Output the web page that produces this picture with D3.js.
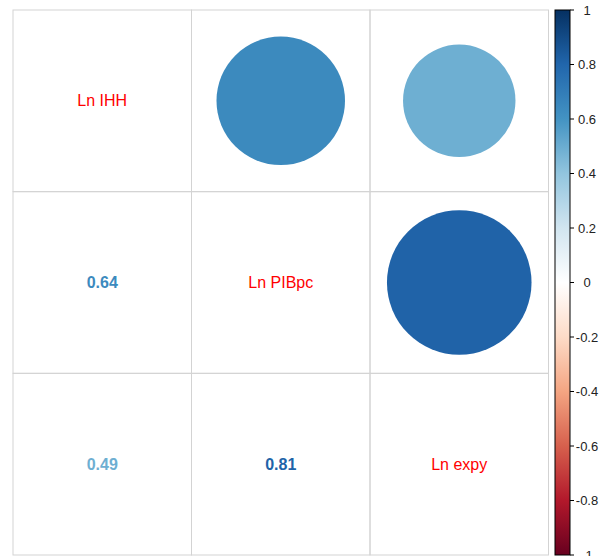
<!DOCTYPE html>
<html>
<head>
<meta charset="utf-8">
<script src="https://cdn.jsdelivr.net/npm/d3@7"></script>
<style>
  html, body { margin: 0; padding: 0; background: #fff; }
  svg { display: block; font-family: "Liberation Sans", Arial, sans-serif; }
</style>
</head>
<body>
<svg id="chart" width="603" height="556"></svg>
<script>
const variables = ["Ln IHH", "Ln PIBpc", "Ln expy"];
const rowIHH   = [1.00, 0.64, 0.49];
const rowPIBpc = [0.64, 1.00, 0.81];
const rowExpy  = [0.49, 0.81, 1.00];
const corrRows = [rowIHH, rowPIBpc, rowExpy];
const legendTicks = [1, 0.8, 0.6, 0.4, 0.2, 0, -0.2, -0.4, -0.6, -0.8, -1];
const paletteStops = ["#67001F", "#B2182B", "#D6604D", "#F4A582", "#FDDBC7", "#FFFFFF",
                      "#D1E5F0", "#92C5DE", "#4393C3", "#2166AC", "#053061"];

const svg = d3.select("#chart");
const gridLeft = 13, gridRight = 548.5, gridTop = 10, gridBottom = 555;

const x = d3.scaleBand().domain(d3.range(variables.length)).range([gridLeft, gridRight]);
const y = d3.scaleBand().domain(d3.range(variables.length)).range([gridTop, gridBottom]);

const color = d3.scaleLinear()
  .domain(d3.range(paletteStops.length).map(i => -1 + 2 * i / (paletteStops.length - 1)))
  .range(paletteStops)
  .interpolate(d3.interpolateRgb);

const cells = [];
corrRows.forEach((row, i) => row.forEach((v, j) => cells.push({ i, j, v })));

// grid
const grid = svg.append("g");
grid.selectAll("rect.cell").data(cells).join("rect")
  .attr("x", d => x(d.j)).attr("y", d => y(d.i))
  .attr("width", x.bandwidth()).attr("height", y.bandwidth())
  .attr("fill", "none").attr("stroke", "#d3d3d3").attr("stroke-width", 1);

const maxR = 0.45 * Math.min(x.bandwidth(), y.bandwidth());

// upper triangle circles
svg.append("g").selectAll("circle").data(cells.filter(d => d.j > d.i)).join("circle")
  .attr("cx", d => x(d.j) + x.bandwidth() / 2)
  .attr("cy", d => y(d.i) + y.bandwidth() / 2)
  .attr("r", d => maxR * Math.sqrt(Math.abs(d.v)))
  .attr("fill", d => color(d.v));

// lower triangle numbers
svg.append("g").selectAll("text").data(cells.filter(d => d.j < d.i)).join("text")
  .attr("x", d => x(d.j) + x.bandwidth() / 2)
  .attr("y", d => y(d.i) + y.bandwidth() / 2)
  .attr("text-anchor", "middle").attr("dominant-baseline", "central")
  .attr("font-size", 16).attr("font-weight", "bold")
  .attr("fill", d => color(d.v))
  .text(d => d3.format(".2f")(d.v));

// diagonal labels
svg.append("g").selectAll("text").data(variables).join("text")
  .attr("x", (d, i) => x(i) + x.bandwidth() / 2)
  .attr("y", (d, i) => y(i) + y.bandwidth() / 2)
  .attr("text-anchor", "middle").attr("dominant-baseline", "central")
  .attr("font-size", 16).attr("fill", "#ff0000")
  .text(d => d);

// color legend
const barX = 555, barW = 15;
const ly = d3.scaleLinear().domain([1, -1]).range([gridTop, gridBottom]);
const defs = svg.append("defs");
const grad = defs.append("linearGradient").attr("id", "rdbu")
  .attr("x1", 0).attr("y1", 1).attr("x2", 0).attr("y2", 0);
paletteStops.forEach((c, i) => grad.append("stop")
  .attr("offset", i / (paletteStops.length - 1)).attr("stop-color", c));
svg.append("rect")
  .attr("x", barX).attr("y", ly(1)).attr("width", barW).attr("height", ly(-1) - ly(1))
  .attr("fill", "url(#rdbu)").attr("stroke", "#000").attr("stroke-width", 1);

const lg = svg.append("g");
lg.selectAll("line").data(legendTicks).join("line")
  .attr("x1", barX + barW).attr("x2", barX + barW + 4)
  .attr("y1", d => ly(d)).attr("y2", d => ly(d))
  .attr("stroke", "#000").attr("stroke-width", 1);
lg.selectAll("text").data(legendTicks).join("text")
  .attr("x", 587).attr("y", d => ly(d))
  .attr("text-anchor", "middle").attr("dominant-baseline", "central")
  .attr("font-size", 13).attr("fill", "#222")
  .text(d => d3.format("")(d).replace("−", "-"));
</script>
</body>
</html>
